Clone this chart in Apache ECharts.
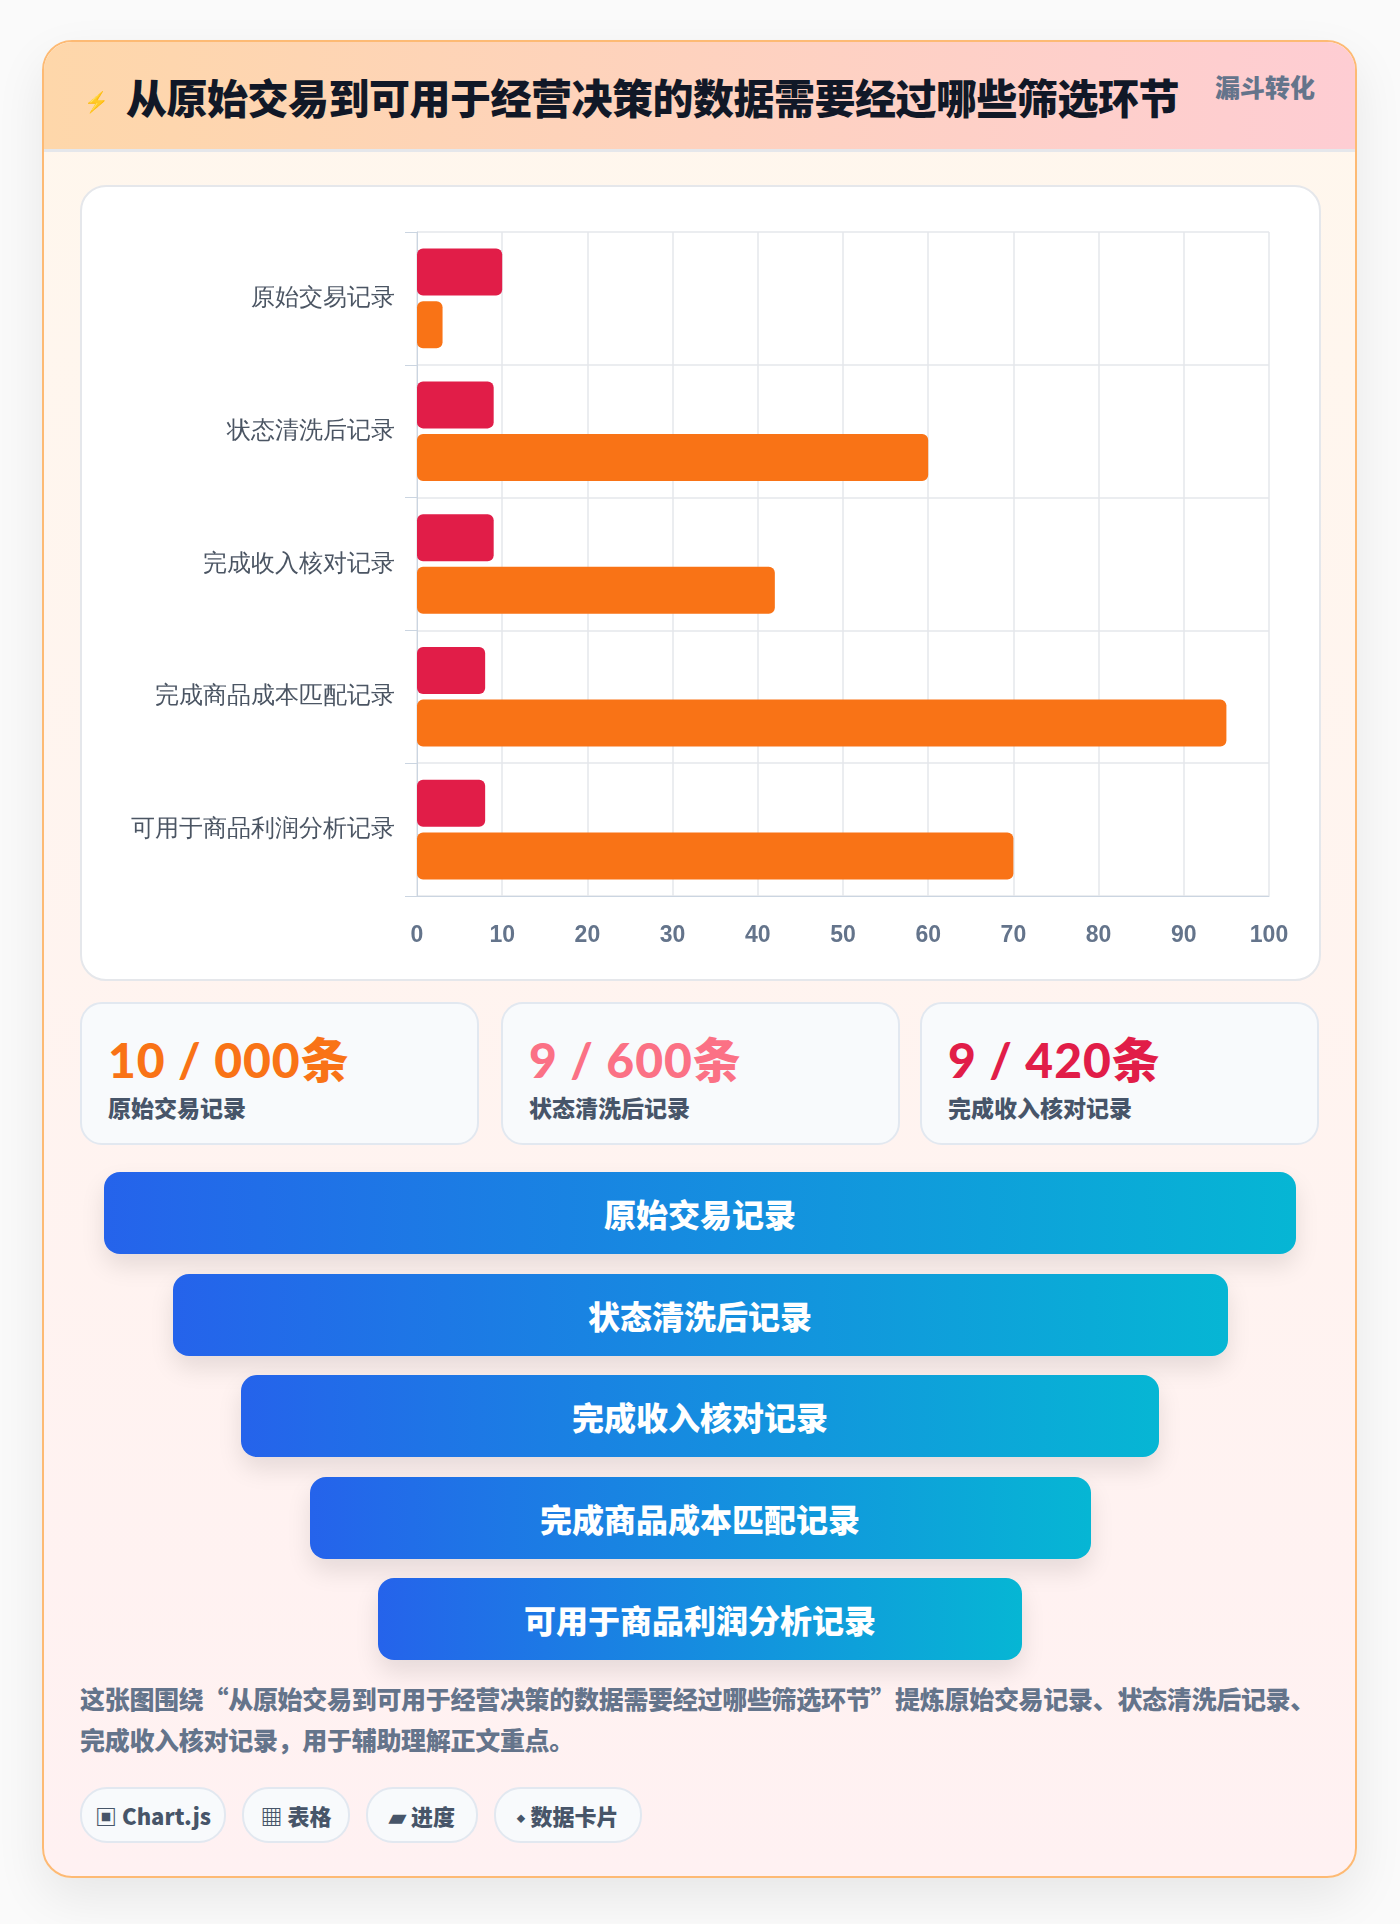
<!DOCTYPE html>
<html><head><meta charset="utf-8">
<script src="https://cdn.jsdelivr.net/npm/echarts@6/dist/echarts.min.js"></script>
<style>
body{margin:0;width:1400px;height:1924px;background:#fafafa;font-family:"Noto Sans CJK SC","Noto Sans",sans-serif;}
.card{position:absolute;left:42px;top:40px;width:1311px;height:1834px;border:2px solid #fdba74;border-radius:30px;background:linear-gradient(180deg,#fff7ed,#fff1f2);box-shadow:0 20px 50px rgba(0,0,0,0.08);overflow:hidden;}
.head{position:absolute;left:0;top:0;width:100%;height:107px;background:linear-gradient(90deg,#fed7aa,#fecdd3);border-bottom:3px solid #e5e7eb;}
.title{position:absolute;left:82px;top:24px;font-size:41px;font-weight:900;color:#111827;letter-spacing:-0.5px;}
.icon{position:absolute;left:40px;top:44px;font-size:20px;color:#2563eb;}
.tag{position:absolute;right:40px;top:26px;font-size:25px;font-weight:800;color:#64748b;}
.panel{position:absolute;left:36px;top:143px;width:1237px;height:792px;background:#fff;border:2px solid #e5e7eb;border-radius:26px;}
#chart{position:absolute;left:0;top:0;width:1237px;height:792px;}
.stat{position:absolute;top:960px;width:395px;height:139px;background:#f8fafc;border:2px solid #e2e8f0;border-radius:22px;}
.stat .n{position:absolute;left:26px;top:18px;font-size:48px;font-weight:900;letter-spacing:1px;font-family:"Lato","Noto Sans CJK SC",sans-serif;}
.stat .l{position:absolute;left:26px;top:86px;font-size:23px;font-weight:800;color:#475569;}
.fb{position:absolute;height:82px;border-radius:16px;background:linear-gradient(90deg,#2563eb,#06b6d4);color:#fff;font-size:32px;font-weight:900;display:flex;align-items:center;justify-content:center;box-shadow:0 12px 24px rgba(0,0,0,0.1);}
.desc{position:absolute;left:36px;top:1636px;width:1245px;font-size:25px;font-weight:800;color:#64748b;line-height:41px;letter-spacing:-0.3px;}
.pill{position:absolute;top:1745px;height:52px;border:2px solid #e2e8f0;border-radius:27px;background:#f8fafc;font-size:22px;font-weight:800;color:#475569;display:flex;align-items:center;justify-content:center;}
</style></head><body>
<div class="card">
 <div class="head"><div class="icon">⚡</div><div class="title">从原始交易到可用于经营决策的数据需要经过哪些筛选环节</div><div class="tag">漏斗转化</div></div>
 <div class="panel"><div id="chart"></div></div>
 <div class="stat" style="left:36px"><div class="n" style="color:#f97316">10 / 000条</div><div class="l">原始交易记录</div></div>
 <div class="stat" style="left:457px"><div class="n" style="color:#fb7185">9 / 600条</div><div class="l">状态清洗后记录</div></div>
 <div class="stat" style="left:876px"><div class="n" style="color:#e11d48">9 / 420条</div><div class="l">完成收入核对记录</div></div>
 <div id="funnel"></div>
 <div class="desc">这张图围绕“从原始交易到可用于经营决策的数据需要经过哪些筛选环节”提炼原始交易记录、状态清洗后记录、完成收入核对记录，用于辅助理解正文重点。</div>
 <div class="pill" style="left:36px;width:142px">▣ Chart.js</div>
 <div class="pill" style="left:198px;width:104px">▦ 表格</div>
 <div class="pill" style="left:322px;width:108px">▰ 进度</div>
 <div class="pill" style="left:450px;width:144px">⬩ 数据卡片</div>
</div>
<script>
const categories=['原始交易记录','状态清洗后记录','完成收入核对记录','完成商品成本匹配记录','可用于商品利润分析记录'];
const seriesA=[10,9,9,8,8];
const seriesB=[3,60,42,95,70];
const xTicks=[0,10,20,30,40,50,60,70,80,90,100];
const f=document.getElementById('funnel');
categories.forEach((c,i)=>{const d=document.createElement('div');d.className='fb';
 const w=1192-i*137;d.style.left=(60+i*68.5)+'px';d.style.width=w+'px';d.style.top=(1130+i*101.5)+'px';d.textContent=c;f.appendChild(d);});
const ch=echarts.init(document.getElementById('chart'));
ch.setOption({animation:false,
 grid:{left:335,right:50,top:45,bottom:83},
 xAxis:{type:'value',min:0,max:100,interval:10,
  axisLine:{show:true,lineStyle:{color:'#cbd5e1'}},axisTick:{show:false},
  axisLabel:{color:'#64748b',fontSize:23,fontWeight:'bold',margin:28,formatter:v=>String(xTicks[v/10])},
  splitLine:{lineStyle:{color:'#e5e7eb',width:1.5}}},
 yAxis:{type:'category',data:categories,inverse:true,
  axisLine:{show:true,lineStyle:{color:'#cbd5e1'}},axisTick:{show:true,length:12,lineStyle:{color:'#cbd5e1'}},
  axisLabel:{color:'#4b5563',fontSize:24,margin:22},
  splitLine:{show:true,lineStyle:{color:'#e5e7eb',width:1.5}}},
 series:[
  {type:'bar',data:seriesA,barWidth:47,barGap:'12%',itemStyle:{color:'#e11d48',borderRadius:6}},
  {type:'bar',data:seriesB,barWidth:47,itemStyle:{color:'#f97316',borderRadius:6}}
 ]});
</script>
</body></html>
